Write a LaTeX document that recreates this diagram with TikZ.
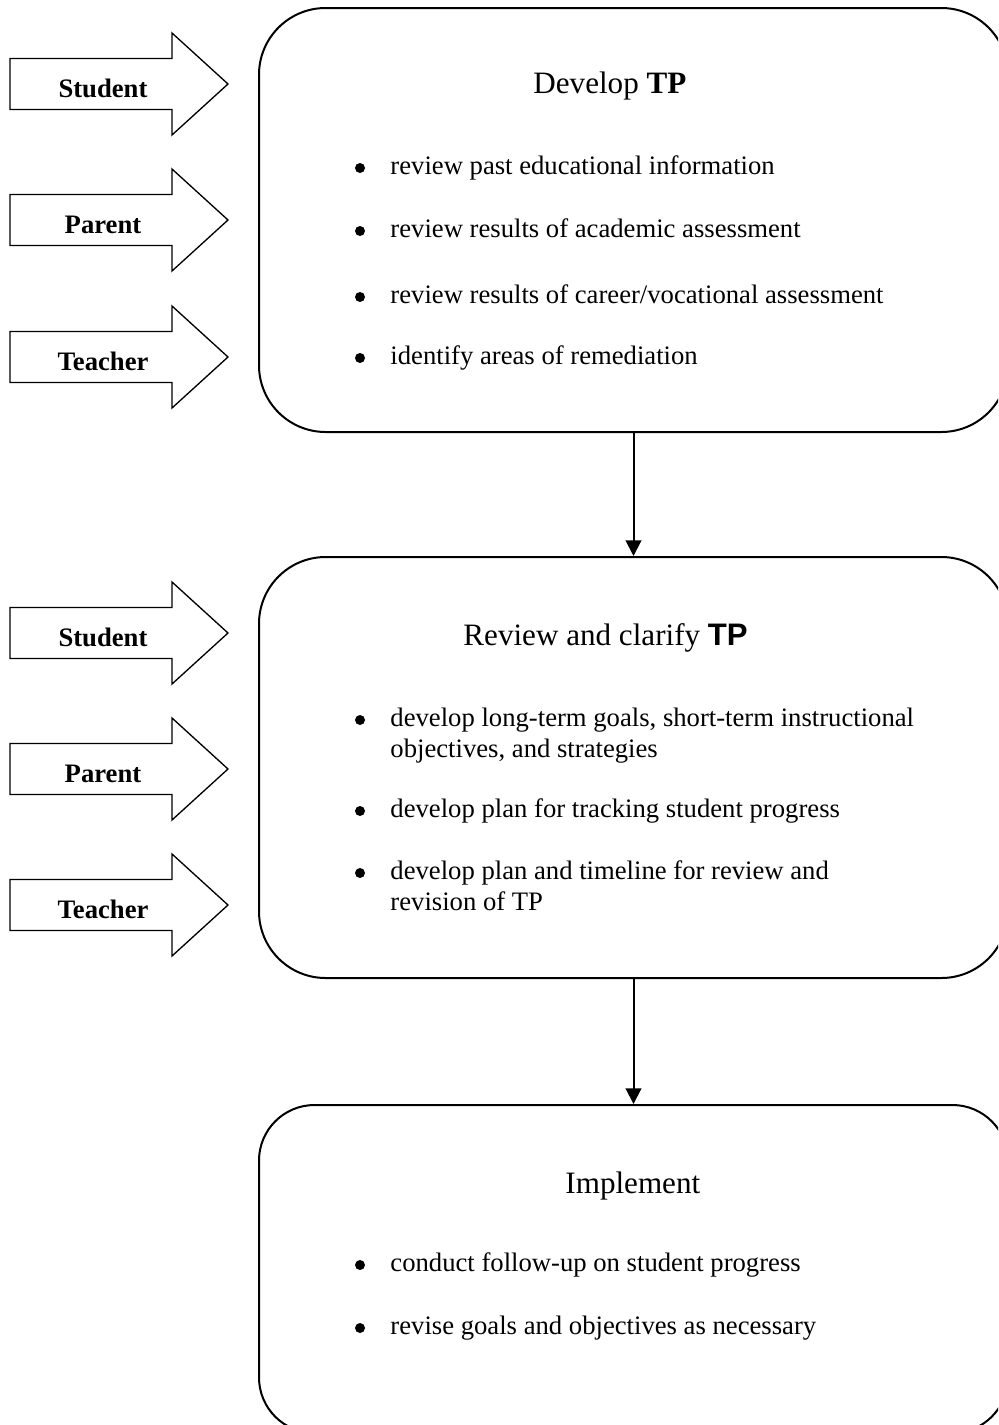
\documentclass[tikz,border=0pt]{standalone}
\usepackage{fontspec}
\setmainfont{Liberation Serif}
\newfontfamily\arialfont{Liberation Sans}
\usetikzlibrary{arrows.meta,fit}

\tikzset{
	stepbox/.style={draw, line width=0.9pt, inner sep=0pt, rounded corners=30pt},
	inarrow/.style={draw, line width=0.6pt},
	inlabel/.style={anchor=base, inner sep=0pt, font=\fontsize{12}{14}\selectfont\bfseries},
	heading/.style={anchor=base west, inner sep=0pt, font=\fontsize{14}{16}\selectfont},
	point/.style={anchor=base west, inner sep=0pt, font=\fontsize{12}{14}\selectfont},
	bulletmark/.style={circle, fill, inner sep=0pt, minimum size=4.5pt},
	flow/.style={line width=0.9pt, -{Triangle[length=7pt,width=7pt]}}
}

\begin{document}
\begin{tikzpicture}[x=0.45pt, y=-0.45pt]
	\useasboundingbox (0,0) rectangle (998,1425);
	\clip (0,0) rectangle (998,1425);
	% the three steps
	\node[stepbox, fit={(259,8) (1008,432)}] (develop) {};
	\node[stepbox, fit={(259,557) (1008,978)}] (review) {};
	\node[stepbox, rounded corners=25pt, fit={(259,1105) (1008,1433)}] (implement) {};
	\draw[flow] (develop.south) -- (review.north);
	\draw[flow] (review.south) -- (implement.north);
	% who takes part
	\foreach \y/\who/\n in {84/Student/1, 220/Parent/2, 357/Teacher/3, 633/Student/4, 769/Parent/5, 905/Teacher/6}{
		\draw[inarrow] (10,\y-25.5) -- (172,\y-25.5) -- (172,\y-51) -- (228,\y) -- (172,\y+51) -- (172,\y+25.5) -- (10,\y+25.5) -- cycle;
		\node[inlabel] (who\n) at (103,\y+13) {\who};
	}
	% step 1
	\node[heading] (develop title) at (533,93) {Develop \textbf{TP}};
	\foreach \y/\txt in {174/{review past educational information}, 237/{review results of academic assessment}, 303/{review results of career/vocational assessment}, 364/{identify areas of remediation}}{
		\node[bulletmark] (dot\y) at (360,\y-6) {};
		\node[point] (item\y) at (390,\y) {\txt};
	}
	% step 2
	\node[heading] (review title) at (463,645) {Review and clarify {\arialfont\bfseries TP}};
	\foreach \y/\txt in {726/{develop long-term goals, short-term instructional}, 817/{develop plan for tracking student progress}, 879/{develop plan and timeline for review and}}{
		\node[bulletmark] (dot\y) at (360,\y-6) {};
		\node[point] (item\y) at (390,\y) {\txt};
	}
	\node[point] (item757) at (390,757) {objectives, and strategies};
	\node[point] (item910) at (390,910) {revision of TP};
	% step 3
	\node[heading] (implement title) at (565,1193) {Implement};
	\foreach \y/\txt in {1271/{conduct follow-up on student progress}, 1334/{revise goals and objectives as necessary}}{
		\node[bulletmark] (dot\y) at (360,\y-6) {};
		\node[point] (item\y) at (390,\y) {\txt};
	}
\end{tikzpicture}
\end{document}
